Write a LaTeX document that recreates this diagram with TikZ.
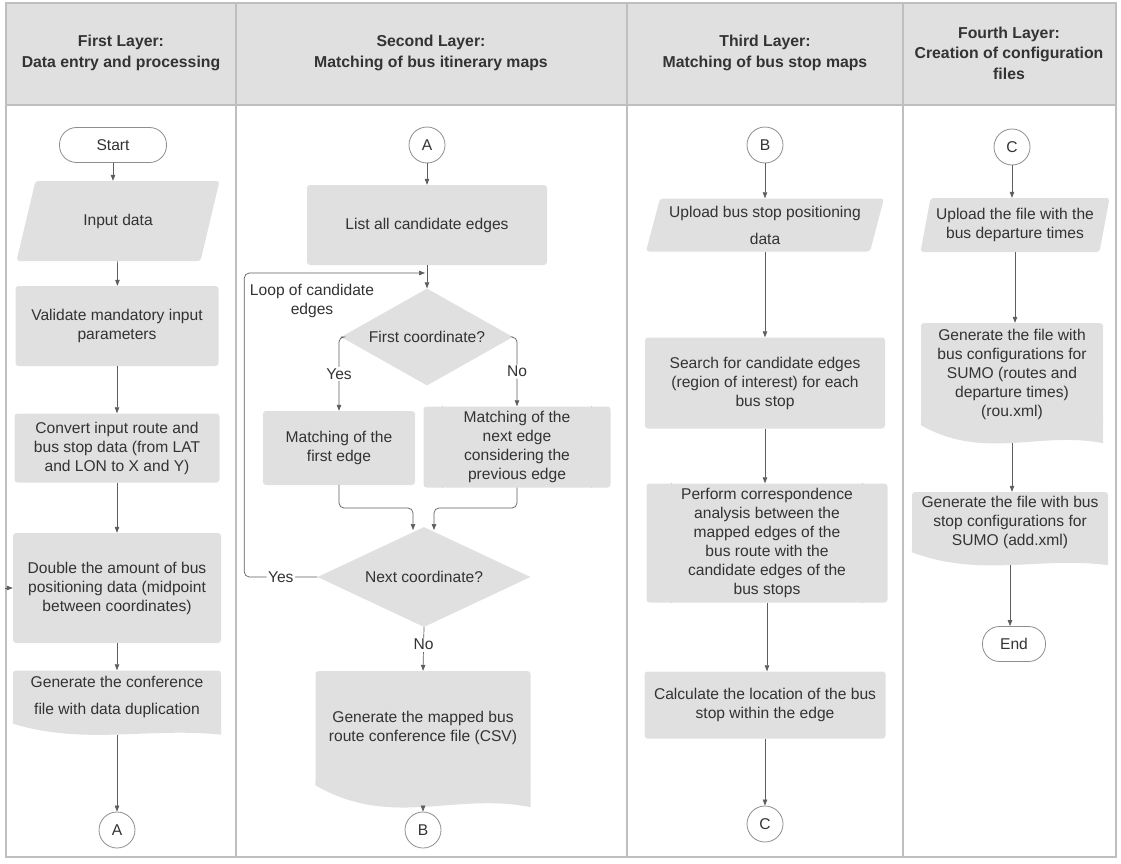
\documentclass[tikz,border=0pt]{standalone}
\usepackage{fontspec}
\setmainfont{Liberation Sans}
\usetikzlibrary{shapes.geometric,arrows.meta,calc}

\definecolor{shapegray}{HTML}{E0E0E0}
\definecolor{gridgray}{HTML}{BFBFBF}
\definecolor{wiregray}{HTML}{5E5E5E}
\definecolor{inkgray}{HTML}{333333}

\tikzset{
  every node/.style={font=\fontsize{15.6}{19}\selectfont, text=inkgray, align=center, inner sep=0pt},
  head/.style={font=\bfseries\fontsize{15.8}{20.5}\selectfont},
  boxsize/.style 2 args={minimum width=#1pt, minimum height=#2pt},
  procbox/.style={rectangle, fill=shapegray, rounded corners=3pt},
  sepline/.style={draw=gridgray, line width=0.7pt},
  predef/.style={procbox, append after command={\pgfextra{
      \draw[sepline] ([xshift=#1pt]\tikzlastnode.north west) -- ([xshift=#1pt]\tikzlastnode.south west);
      \draw[sepline] ([xshift=-#1pt]\tikzlastnode.north east) -- ([xshift=-#1pt]\tikzlastnode.south east);}}},
  docbox/.style={procbox, append after command={\pgfextra{
      \fill[shapegray] ([yshift=4pt]\tikzlastnode.south west) -- ([yshift=4pt]\tikzlastnode.south east)
        -- ([yshift=-#1pt]\tikzlastnode.south east)
        .. controls ($(\tikzlastnode.south west)!0.65!(\tikzlastnode.south east)+(0pt,-0.3*#1pt)$)
        and ($(\tikzlastnode.south west)!0.35!(\tikzlastnode.south east)+(0pt,-2*#1pt)$)
        .. (\tikzlastnode.south west) -- cycle;
      \coordinate (\tikzlastnode-w) at ($(\tikzlastnode.south)+(0pt,-#1pt)$);}}},
  iobox/.style={fill=white, path picture={
      \fill[shapegray, rounded corners=3pt] ([xshift=#1pt]path picture bounding box.north west)
        -- (path picture bounding box.north east) -- ([xshift=-#1pt]path picture bounding box.south east)
        -- (path picture bounding box.south west) -- cycle;}},
  termbox/.style={rectangle, rounded corners=17pt, draw=wiregray!70, fill=white, line width=0.8pt},
  linkcirc/.style={circle, draw=wiregray!70, fill=white, minimum size=36pt, line width=0.8pt},
  decbox/.style={diamond, fill=shapegray, shape aspect=2},
  flow/.style={draw=wiregray, line width=0.7pt, -{Triangle[length=6pt,width=4.5pt]}},
  lbl/.style={fill=white, inner sep=1.5pt},
  grid/.style={draw=gridgray, line width=1.2pt}
}

\begin{document}
\begin{tikzpicture}[x=1pt,y=-1pt]
    \useasboundingbox (0,0) rectangle (1121,864);
    %% Lanes
    \fill[shapegray] (6,3) rectangle (1116,105);
    \draw[grid] (6,3) rectangle (1116,857);
    \draw[grid] (6,105) -- (1116,105);
    \foreach \x in {236,627,903} \draw[grid] (\x,3) -- (\x,857);
    \node[head] (hd1) at (121,53) {First Layer:\\Data entry and processing};
    \node[head] (hd2) at (431,53) {Second Layer:\\Matching of bus itinerary maps};
    \node[head] (hd3) at (765,53) {Third Layer:\\Matching of bus stop maps};
    \node[head] (hd4) at (1009,53) {Fourth Layer:\\Creation of configuration\\files};

    %% First layer
    \node[termbox, boxsize={107}{35}] (start) at (113,145) {Start};
    \node[iobox=19, boxsize={203}{80}] (inp) at (118,221) {Input data};
    \node[procbox, boxsize={203}{80}] (valid) at (117,326) {Validate mandatory input\\parameters};
    \node[procbox, boxsize={205}{69}] (conv) at (117,448) {Convert input route and\\bus stop data (from LAT\\and LON to X and Y)};
    \node[procbox, boxsize={208}{110}] (dbl) at (117,588) {Double the amount of bus\\positioning data (midpoint\\between coordinates)};
    \node[docbox=11, boxsize={208}{53}] (gen1) at (117,697) {Generate the conference\\[8pt]file with data duplication};
    \node[linkcirc] (ca) at (117,830) {A};
    \coordinate (dblin) at (5,588);

    %% Second layer
    \node[linkcirc] (a2) at (427,145) {A};
    \node[procbox, boxsize={240}{80}] (list) at (427,225) {List all candidate edges};
    \node[decbox, boxsize={172}{97}] (first) at (427,337) {First coordinate?};
    \node[predef=16, boxsize={152}{74}] (mfirst) at (339,448) {Matching of the\\first edge};
    \node[predef=19, boxsize={187}{81}] (mnext) at (517,447) {Matching of the\\next edge\\considering the\\previous edge};
    \node[decbox, boxsize={213}{100}] (next) at (424,577) {Next coordinate?};
    \node[docbox=22, boxsize={215}{114}] (gen2) at (423,728) {Generate the mapped bus\\route conference file (CSV)};
    \node[linkcirc] (cb) at (423,830) {B};
    \node (loop) at (312,301) {Loop of candidate\\edges};
    \coordinate (lp) at (425,273);
    \coordinate (ma) at (413,530);
    \coordinate (mb) at (434,530);

    %% Third layer
    \node[linkcirc] (b3) at (765,145) {B};
    \node[iobox=14, boxsize={238}{53}] (upstop) at (765,225) {Upload bus stop positioning\\[8pt]data};
    \node[procbox, boxsize={240}{91}] (search) at (765,383) {Search for candidate edges\\(region of interest) for each\\bus stop};
    \node[predef=25, boxsize={241}{119}] (perf) at (767,543) {Perform correspondence\\analysis between the\\mapped edges of the\\bus route with the\\candidate edges of the\\bus stops};
    \node[procbox, boxsize={241}{67}] (calc) at (765,705) {Calculate the location of the bus\\stop within the edge};
    \node[linkcirc] (cc) at (765,824) {C};

    %% Fourth layer
    \node[linkcirc] (c4) at (1012,147) {C};
    \node[iobox=10, boxsize={189}{54}] (upfile) at (1015,225) {Upload the file with the\\bus departure times};
    \node[docbox=18, boxsize={182}{102}] (rou) at (1012,374) {Generate the file with\\bus configurations for\\SUMO (routes and\\departure times)\\(rou.xml)};
    \node[docbox=13, boxsize={196}{60}] (add) at (1010,522) {Generate the file with bus\\stop configurations for\\SUMO (add.xml)};
    \node[termbox, boxsize={63}{35}] (end) at (1014,644) {End};

    %% Lines
    \draw[flow] (start.south) -- (start.south |- inp.north);
    \draw[flow] (inp) -- (valid);
    \draw[flow] (valid) -- (conv);
    \draw[flow] (conv) -- (dbl);
    \draw[flow] (dbl) -- (gen1);
    \draw[flow] (gen1-w) -- (ca);
    \draw[flow] (dblin) -- (dbl.west);

    \draw[flow] (a2) -- (list);
    \draw[flow] (list) -- (first);
    \draw[flow, rounded corners=5pt] (first.west) -| node[lbl, pos=0.75] {Yes} (mfirst.north);
    \draw[flow, rounded corners=5pt] (first.east) -| node[lbl, pos=0.75] {No} (mnext.north);
    \draw[flow, rounded corners=5pt] (mfirst.south) |- ($(ma)+(0,-22)$) -- (ma);
    \draw[flow, rounded corners=5pt] (mnext.south) |- ($(mb)+(0,-22)$) -- (mb);
    \draw[flow, rounded corners=5pt] (next.west) -- node[lbl] {Yes} ++(-73,0) |- (lp);
    \draw[flow] (next.south) -- node[lbl, pos=0.4] {No} (gen2.north);
    \draw[flow] (gen2-w) -- (cb);

    \draw[flow] (b3) -- (upstop);
    \draw[flow] (upstop) -- (search);
    \draw[flow] (search.south) -- (search.south |- perf.north);
    \draw[flow] (perf.south) -- (perf.south |- calc.north);
    \draw[flow] (calc) -- (cc);

    \draw[flow] (c4.south) -- (c4.south |- upfile.north);
    \draw[flow] (upfile.south) -- (upfile.south |- rou.north);
    \draw[flow] (rou-w) -- (rou-w |- add.north);
    \draw[flow] (add-w) -- (add-w |- end.north);
\end{tikzpicture}
\end{document}
